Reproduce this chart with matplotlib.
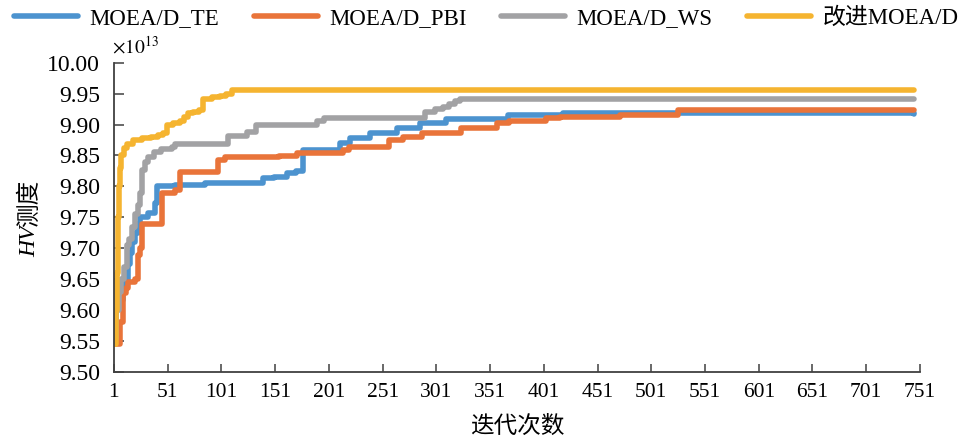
import matplotlib
matplotlib.use('Agg')
import matplotlib.pyplot as plt

plt.rcParams['font.family'] = ['Liberation Serif', 'Noto Sans CJK SC']
plt.rcParams['mathtext.fontset'] = 'stix'

# iteration breakpoints and HV values (x1e13), drawn as step lines
te_it = [1, 3, 5, 9, 11, 14, 16, 18, 21, 23, 25, 33, 39, 41, 58, 86, 140, 150, 162, 170, 177,
         211, 221, 239, 264, 286, 310, 368, 419, 745]
te_hv = [9.555, 9.600, 9.616, 9.635, 9.649, 9.675, 9.692, 9.710, 9.724, 9.740, 9.751, 9.757,
         9.773, 9.800, 9.802, 9.805, 9.813, 9.816, 9.821, 9.825, 9.859,
         9.870, 9.878, 9.886, 9.894, 9.902, 9.9085, 9.9155, 9.918, 9.917]

pbi_it = [1, 7, 9, 12, 14, 21, 23, 25, 27, 46, 58, 62, 98, 104, 155, 171, 214, 220, 257, 270,
          288, 324, 357, 369, 403, 416, 472, 526, 745]
pbi_hv = [9.545, 9.580, 9.627, 9.635, 9.645, 9.650, 9.689, 9.700, 9.740, 9.790, 9.794, 9.824,
          9.843, 9.848, 9.849, 9.8535, 9.859, 9.864, 9.875, 9.880,
          9.886, 9.894, 9.902, 9.906, 9.910, 9.913, 9.9155, 9.9235, 9.9235]

ws_it = [1, 3, 6, 8, 10, 13, 15, 18, 21, 23, 25, 27, 30, 33, 38, 45, 55, 58, 107, 125, 133,
         190, 196, 290, 300, 307, 313, 318, 323, 745]
ws_hv = [9.555, 9.600, 9.630, 9.650, 9.670, 9.705, 9.715, 9.735, 9.755, 9.770, 9.790, 9.827,
         9.840, 9.848, 9.856, 9.860, 9.864, 9.868, 9.882, 9.888, 9.899,
         9.905, 9.910, 9.921, 9.925, 9.929, 9.934, 9.938, 9.941, 9.941]

imp_it = [1, 3, 4, 5, 6, 7, 8, 10, 13, 19, 27, 35, 42, 47, 50, 56, 62, 66, 70, 75, 80, 84,
          92, 100, 105, 111, 745]
imp_hv = [9.545, 9.600, 9.660, 9.750, 9.800, 9.830, 9.850, 9.862, 9.868, 9.875, 9.878, 9.880,
          9.883, 9.886, 9.899, 9.902, 9.905, 9.912, 9.918, 9.921, 9.923, 9.942,
          9.944, 9.946, 9.950, 9.956, 9.956]

names = ['MOEA/D_TE', 'MOEA/D_PBI', 'MOEA/D_WS', '改进MOEA/D']
colors = ['#4C93CF', '#E9743A', '#A2A2A4', '#F5B430']
xticks = list(range(1, 752, 50))
yticks = [9.50, 9.55, 9.60, 9.65, 9.70, 9.75, 9.80, 9.85, 9.90, 9.95, 10.00]

fig = plt.figure(figsize=(9.61, 4.41), dpi=100)
ax = fig.add_axes([0.1186, 0.1565, 0.8387, 0.7013])

series = [(te_it, te_hv), (pbi_it, pbi_hv), (ws_it, ws_hv), (imp_it, imp_hv)]
handles = []
for (it, hv), name, c in zip(series, names, colors):
    h, = ax.plot(it, hv, drawstyle='steps-post', color=c, lw=4.0, label=name,
                 solid_capstyle='round', solid_joinstyle='round')
    handles.append(h)

ax.set_xlim(1, 751)
ax.set_ylim(9.5, 10.0)
ax.set_xticks(xticks)
ax.set_yticks(yticks)
ax.set_yticklabels(['%.2f' % v for v in yticks])
for s in ['top', 'right']:
    ax.spines[s].set_visible(False)
for s in ['left', 'bottom']:
    ax.spines[s].set_color('#404040')
    ax.spines[s].set_linewidth(1.3)
ax.tick_params(axis='y', direction='in', length=7, width=1.1, color='#404040',
               labelsize=17, pad=10)
ax.tick_params(axis='x', direction='in', length=6, width=1.1, color='#404040',
               labelsize=15.5, pad=8)

ax.text(-0.002, 1.03, r'$\times10^{13}$', transform=ax.transAxes, fontsize=14,
        ha='left', va='baseline')

ax.set_xlabel('迭代次数', fontsize=17, family=['Noto Sans CJK SC'], labelpad=9)
fig.text(30 / 961, 1 - 257 / 441, 'HV', rotation=90, style='italic', fontsize=17,
         ha='center', va='bottom', family=['Liberation Serif'])
fig.text(30 / 961, 1 - 227 / 441, '测度', rotation=90, fontsize=17,
         ha='center', va='bottom', family=['Noto Sans CJK SC'])

fig.legend(handles, names, loc='center', bbox_to_anchor=(0.506, 0.958), ncol=4,
           frameon=False, fontsize=16.5, handlelength=2.8, handletextpad=0.5,
           columnspacing=1.5)

fig.savefig('out.png', dpi=100)
